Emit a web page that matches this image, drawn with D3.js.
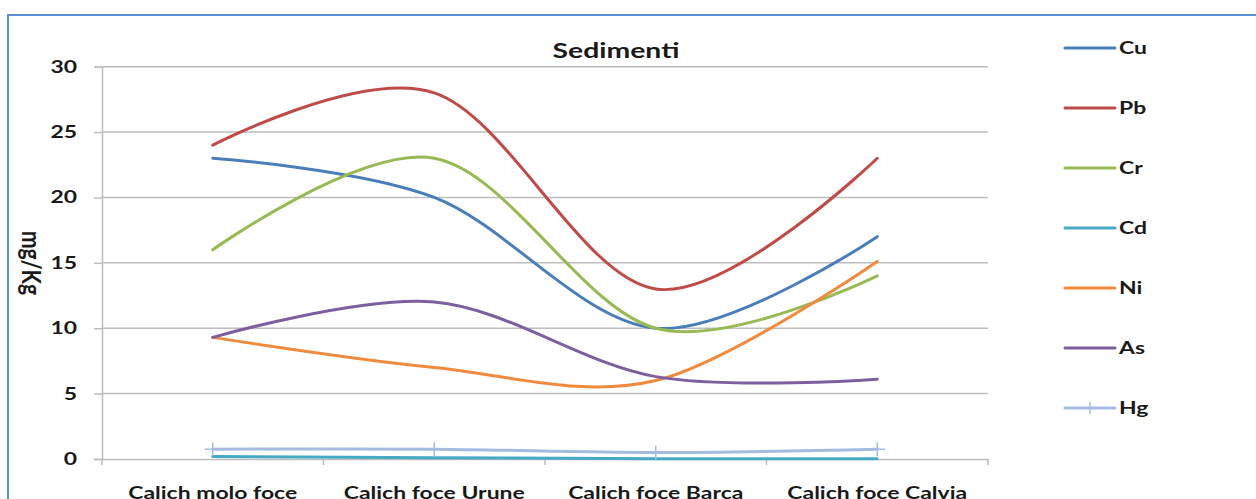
<!DOCTYPE html>
<html>
<head>
<meta charset="utf-8">
<script src="https://cdn.jsdelivr.net/npm/d3@7"></script>
<style>
  html, body { margin: 0; padding: 0; background: #fff; }
  svg { display: block; }
  text { font-family: Lato, "Open Sans", sans-serif; fill: #1a1a1a; }
</style>
</head>
<body>
<svg id="chart" width="1256" height="499"></svg>
<script>
// Sampling sites along the x axis
const categories = ["Calich molo foce", "Calich foce Urune", "Calich foce Barca", "Calich foce Calvia"];

// Metal concentrations in sediments (mg/Kg)
const Cu = [23, 20, 10, 17];
const Pb = [24, 28, 13, 23];
const Cr = [16, 23, 10, 14];
const Cd = [0.2, 0.1, 0.02, 0.02];
const Ni = [9.3, 7, 6, 15.1];
const As = [9.3, 12, 6.3, 6.1];
const Hg = [0.75, 0.75, 0.5, 0.75];

const seriesNames = ["Cu", "Pb", "Cr", "Cd", "Ni", "As", "Hg"];
const seriesValues = [Cu, Pb, Cr, Cd, Ni, As, Hg];
const seriesColors = ["#4a7ebb", "#be4b48", "#98b954", "#46aac5", "#f08a3c", "#7d5fa0", "#a5bce0"];

const yTicks = [0, 5, 10, 15, 20, 25, 30];

// horizontal widening applied to the labels (wide, Calibri-like lettering)
const sx = 1.35;

const svg = d3.select("#chart");

// outer frame
svg.append("path")
  .attr("d", "M8,500 V15 H1258")
  .attr("fill", "none")
  .attr("stroke", "#5b8fd0")
  .attr("stroke-width", 2);

const plotLeft = 102, plotRight = 988, plotTop = 66.7, plotBottom = 459;

const x = d3.scaleBand().domain(categories).range([plotLeft, plotRight]).padding(0);
const y = d3.scaleLinear().domain([0, 30]).range([plotBottom, plotTop]);

// horizontal gridlines
svg.append("g")
  .selectAll("line")
  .data(yTicks.filter(d => d > 0))
  .join("line")
  .attr("x1", plotLeft).attr("x2", plotRight)
  .attr("y1", d => y(d)).attr("y2", d => y(d))
  .attr("stroke", "#bdbdbd").attr("stroke-width", 1.5);

// y axis
const yAxis = svg.append("g")
  .attr("transform", `translate(${plotLeft},0)`)
  .call(d3.axisLeft(y).tickValues(yTicks).tickSize(8).tickPadding(17));
yAxis.select(".domain").attr("stroke", "#bdbdbd").attr("stroke-width", 1.5);
yAxis.selectAll(".tick line").attr("stroke", "#bdbdbd").attr("stroke-width", 1.5);
yAxis.selectAll(".tick text")
  .attr("x", -25 / sx)
  .attr("transform", `scale(${sx},1)`)
  .attr("font-family", "Lato, sans-serif")
  .attr("font-size", 17).attr("font-weight", 700).attr("fill", "#1a1a1a");

// x axis
const xAxis = svg.append("g")
  .attr("transform", `translate(0,${plotBottom})`)
  .call(d3.axisBottom(x).tickSize(0).tickPadding(27.5));
xAxis.select(".domain").attr("stroke", "#bdbdbd").attr("stroke-width", 1.5);
xAxis.selectAll(".tick text")
  .attr("transform", `scale(${sx},1)`)
  .attr("font-family", "Lato, sans-serif")
  .attr("font-size", 17).attr("font-weight", 700).attr("fill", "#1a1a1a");

// category boundary ticks
const boundaries = categories.map(c => x(c)).concat([plotRight]);
svg.append("g")
  .selectAll("line")
  .data(boundaries)
  .join("line")
  .attr("x1", d => d).attr("x2", d => d)
  .attr("y1", plotBottom).attr("y2", plotBottom + 6)
  .attr("stroke", "#bdbdbd").attr("stroke-width", 1.5);

// title
svg.append("text")
  .attr("transform", `translate(616,58) scale(${sx},1)`)
  .attr("text-anchor", "middle")
  .attr("font-size", 21).attr("font-weight", 700)
  .text("Sedimenti");

// y axis label
svg.append("text")
  .attr("transform", "translate(22,263) rotate(90) scale(1,1.3)")
  .attr("text-anchor", "middle")
  .attr("font-size", 21).attr("font-weight", 700)
  .text("mg/Kg");

const cx = c => x(c) + x.bandwidth() / 2;

const line = d3.line()
  .x((d, i) => cx(categories[i]))
  .y(d => y(d))
  .curve(d3.curveCardinal.tension(0));

// series lines
const plot = svg.append("g");
seriesValues.forEach((vals, k) => {
  plot.append("path")
    .datum(vals)
    .attr("d", line)
    .attr("fill", "none")
    .attr("stroke", seriesColors[k])
    .attr("stroke-width", 3)
    .attr("stroke-linecap", "round");
});

// plus markers on Hg
const hgIdx = seriesNames.indexOf("Hg");
const markers = plot.append("g");
Hg.forEach((v, i) => {
  const px = cx(categories[i]), py = y(v);
  markers.append("path")
    .attr("d", `M${px - 8},${py} H${px + 8} M${px},${py - 7} V${py + 7}`)
    .attr("stroke", seriesColors[hgIdx])
    .attr("stroke-width", 1.5)
    .attr("fill", "none");
});

// legend
const legend = svg.append("g");
seriesNames.forEach((name, k) => {
  const ly = 48 + k * 60;
  legend.append("line")
    .attr("x1", 1065).attr("x2", 1115)
    .attr("y1", ly).attr("y2", ly)
    .attr("stroke", seriesColors[k]).attr("stroke-width", 3)
    .attr("stroke-linecap", "round");
  if (name === "Hg") {
    legend.append("line")
      .attr("x1", 1090).attr("x2", 1090)
      .attr("y1", ly - 6).attr("y2", ly + 6)
      .attr("stroke", seriesColors[k]).attr("stroke-width", 1.5);
  }
  legend.append("text")
    .attr("transform", `translate(1119,${ly + 6}) scale(${sx},1)`)
    .attr("font-size", 17).attr("font-weight", 700)
    .text(name);
});
</script>
</body>
</html>
